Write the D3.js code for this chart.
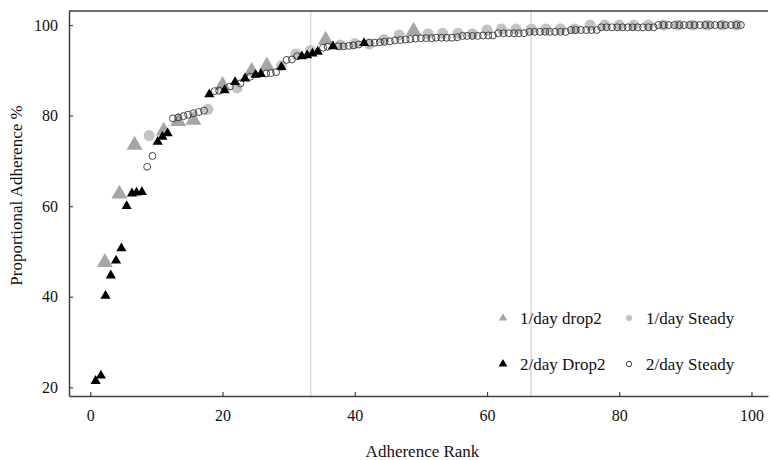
<!DOCTYPE html>
<html>
<head>
<meta charset="utf-8">
<script src="https://cdn.jsdelivr.net/npm/d3@7"></script>
<style>
  body { margin: 0; background: #fff; }
  svg { display: block; font-family: "Liberation Serif", "Times New Roman", serif; }
</style>
</head>
<body>
<svg id="chart" width="771" height="460"></svg>
<script>
// rank / adherence pairs
const oneDrop = [[2.2,47.6],[4.4,62.7],[6.7,73.5],[11.1,76.6],[13.3,78.7],[15.6,79.0],[20.0,86.7],[24.4,89.8],[26.7,91.0],[35.6,96.7],[48.9,98.7]]

const oneSteady = [[8.9,75.6],[17.8,81.4],[22.2,86.1],[28.9,91.0],[31.1,93.6],[33.3,94.4],[37.8,95.6],[40.0,95.9],[42.2,95.8],[44.4,96.8],[46.7,97.8],
  [51.1,98.1],[53.3,98.2],[55.6,98.2],[57.8,98.1],[60.0,98.9],[62.2,99.1],[64.4,99.1],[66.7,99.1],[68.9,99.1],[71.1,99.2],[73.3,99.1],
  [75.6,100],[77.8,100],[80.0,100],[82.2,100],[84.4,100],[86.7,100],[88.9,100],[91.1,100],[93.3,100],[95.6,100],[97.8,100]]

const twoDrop = [[0.8,21.4],[1.6,22.6],[2.3,40.2],[3.1,44.7],[3.9,48.0],[4.7,50.7],[5.5,60.0],[6.3,62.8],[7.0,63.0],[7.8,63.1],
  [10.2,74.2],[10.9,75.3],[11.7,76.1],[18.0,84.7],[20.3,85.6],[21.9,87.4],[23.4,88.2],[25.0,89.0],[25.8,89.2],[28.9,90.7],
  [32.0,93.1],[32.8,93.3],[33.6,93.7],[34.4,94.1],[36.7,95.3],[41.4,96.0]]

const twoSteady = [[8.6,68.7],[9.4,71.1],[12.5,79.4],[13.3,79.6],[14.1,79.9],[14.8,80.2],[15.6,80.5],[16.4,80.8],[17.2,81.1],
  [18.8,85.4],[19.5,85.5],[21.1,86.4],[22.7,87.1],[24.2,88.6],[26.6,89.3],[27.3,89.4],[28.1,89.6],[29.7,92.3],[30.5,92.4],[31.3,93.1],
  [35.2,95.0],[35.9,95.2],[37.5,95.3],[38.3,95.3],[39.1,95.4],[39.8,95.5],[40.6,95.7],
  [42.2,96.1],[43.0,96.1],[43.8,96.2],[44.5,96.3],[45.3,96.4],[46.1,96.6],[46.9,96.7],[47.7,96.8],[48.4,96.9],[49.2,97.0],
  [50.0,97.1],[50.8,97.1],[51.6,97.1],[52.3,97.2],[53.1,97.2],[53.9,97.2],[54.7,97.2],[55.5,97.3],[56.3,97.6],[57.0,97.6],
  [57.8,97.6],[58.6,97.6],[59.4,97.7],[60.2,97.7],[60.9,97.7],[61.7,98.2],[62.5,98.2],[63.3,98.2],[64.1,98.2],[64.8,98.2],
  [65.6,98.2],[66.4,98.5],[67.2,98.5],[68.0,98.5],[68.8,98.5],[69.5,98.5],[70.3,98.5],[71.1,98.5],[71.9,98.5],[72.7,98.9],
  [73.4,98.9],[74.2,98.9],[75.0,98.9],[75.8,98.9],[76.6,98.9],[77.3,99.5],[78.1,99.5],[78.9,99.5],[79.7,99.5],[80.5,99.5],
  [81.3,99.5],[82.0,99.5],[82.8,99.5],[83.6,99.5],[84.4,99.5],[85.2,99.5],[85.9,100],[86.7,100],[87.5,100],[88.3,100],
  [89.1,100],[89.8,100],[90.6,100],[91.4,100],[92.2,100],[93.0,100],[93.8,100],[94.5,100],[95.3,100],[96.1,100],
  [96.9,100],[97.7,100],[98.4,100]]

const xTicks = [0, 20, 40, 60, 80, 100]
const yTicks = [20, 40, 60, 80, 100]
const thirds = [33.33, 66.67]
const legendNames = ["1/day drop2", "1/day Steady", "2/day Drop2", "2/day Steady"]

const svg = d3.select("#chart")
const plotL = 69, plotR = 768, plotT = 11, plotB = 396

const x = d3.scaleLinear().domain([-3.22, 102.5]).range([plotL, plotR])
const y = d3.scaleLinear().domain([18.08, 103.1]).range([plotB, plotT])

//third lines
svg.selectAll("line.third").data(thirds).enter().append("line")
  .attr("class", "third")
  .attr("x1", d => x(d)).attr("x2", d => x(d))
  .attr("y1", plotT).attr("y2", plotB)
  .attr("stroke", "#d9d9d9").attr("stroke-width", 1.5)

//top frame line
svg.append("line").attr("x1", plotL).attr("x2", plotR).attr("y1", plotT).attr("y2", plotT)
  .attr("stroke", "#404040").attr("stroke-width", 1.5)

const xAxis = svg.append("g").attr("transform", `translate(0,${plotB})`)
  .call(d3.axisBottom(x).tickValues(xTicks).tickSize(-4).tickPadding(14).tickSizeOuter(0))
const yAxis = svg.append("g").attr("transform", `translate(${plotL},0)`)
  .call(d3.axisLeft(y).tickValues(yTicks).tickSize(-4).tickPadding(11).tickSizeOuter(0))

for (const g of [xAxis, yAxis]) {
  g.select(".domain").attr("stroke", "#404040").attr("stroke-width", 1.5)
  g.selectAll(".tick line").attr("stroke", "#404040").attr("stroke-width", 1.2)
  g.selectAll(".tick text").attr("fill", "#111").style("font-size", "16px").style("font-family", "Liberation Serif, serif")
}

//axis titles
svg.append("text").attr("x", (plotL + plotR) / 2 + 4).attr("y", 457).attr("text-anchor", "middle")
  .style("font-size", "17px").attr("fill", "#111").text("Adherence Rank")
svg.append("text").attr("transform", `translate(22,${(plotT + plotB) / 2 - 8}) rotate(-90)`).attr("text-anchor", "middle")
  .style("font-size", "17px").attr("fill", "#111").text("Proportional Adherence %")

const tri = (s) => d3.symbol().type(d3.symbolTriangle).size(s)
const circ = (s) => d3.symbol().type(d3.symbolCircle).size(s)

//marks
svg.append("g").selectAll("path").data(oneDrop).enter().append("path")
  .attr("transform", d => `translate(${x(d[0])},${y(d[1])})`)
  .attr("d", tri(110)).attr("fill", "#a6a6a6")
svg.append("g").selectAll("path").data(oneSteady).enter().append("path")
  .attr("transform", d => `translate(${x(d[0])},${y(d[1])})`)
  .attr("d", circ(95)).attr("fill", "#c3c3c3")
svg.append("g").selectAll("path").data(twoSteady).enter().append("path")
  .attr("transform", d => `translate(${x(d[0])},${y(d[1])})`)
  .attr("d", circ(38)).attr("fill", "none").attr("stroke", "#333").attr("stroke-width", 0.9)
svg.append("g").selectAll("path").data(twoDrop).enter().append("path")
  .attr("transform", d => `translate(${x(d[0])},${y(d[1])})`)
  .attr("d", tri(45)).attr("fill", "#000")

//legend
const legend = [
  {name: legendNames[0], sym: tri(30), fill: "#a6a6a6", stroke: "none", lx: 503, ly: 318},
  {name: legendNames[1], sym: circ(30), fill: "#c3c3c3", stroke: "none", lx: 629, ly: 318},
  {name: legendNames[2], sym: tri(34), fill: "#000", stroke: "none", lx: 503, ly: 364},
  {name: legendNames[3], sym: circ(24), fill: "none", stroke: "#333", lx: 629, ly: 364}
]
const lg = svg.append("g").selectAll("g").data(legend).enter().append("g")
  .attr("transform", d => `translate(${d.lx},${d.ly})`)
lg.append("path").attr("d", d => d.sym()).attr("fill", d => d.fill).attr("stroke", d => d.stroke).attr("stroke-width", 0.9)
lg.append("text").attr("x", 17).attr("y", 6).style("font-size", "17px").attr("fill", "#111").text(d => d.name)
</script>
</body>
</html>
